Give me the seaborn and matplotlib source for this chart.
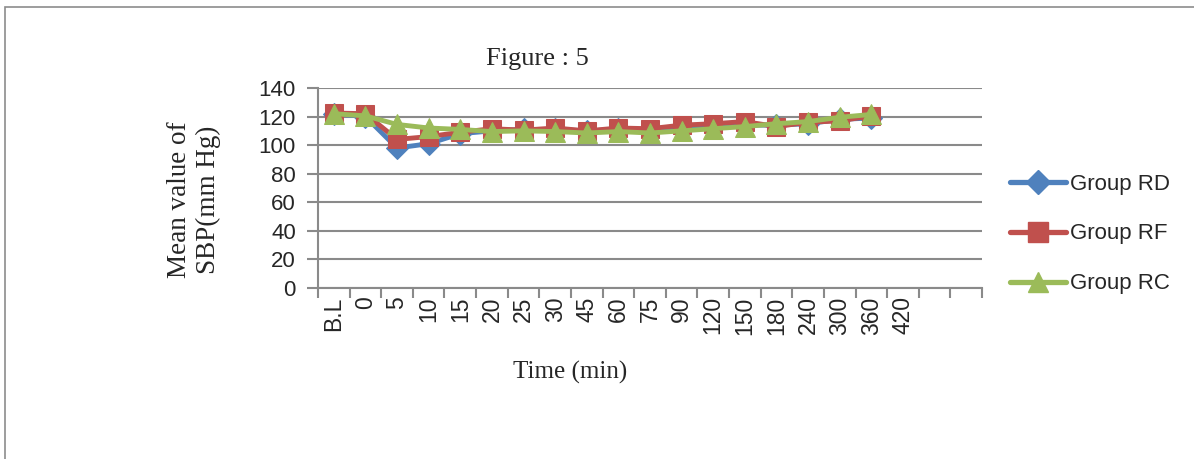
import matplotlib
matplotlib.use("Agg")
import matplotlib.pyplot as plt
import seaborn as sns
import pandas as pd
import numpy as np
from matplotlib.lines import Line2D
from matplotlib.patches import Rectangle

categories = ["B.L", "0", "5", "10", "15", "20", "25", "30", "45", "60", "75",
              "90", "120", "150", "180", "240", "300", "360", "420", "", ""]
group_rd = [122, 120, 98, 101, 108, 110, 111, 111, 110, 111, 110,
            112, 113, 114, 114, 115, 118, 119]
group_rf = [122.5, 122, 104, 106, 109, 111.5, 110.5, 112, 110, 112, 111.5,
            114, 115, 116.5, 113, 116, 117, 120.5]
group_rc = [122, 120.5, 114.5, 112, 111, 109.5, 110, 109.5, 108.5, 109.5, 108.5,
            110, 111.5, 113, 115, 116.5, 119.5, 121.5]
series_names = ["Group RD", "Group RF", "Group RC"]
colors = ["#4F81BD", "#C0504D", "#9BBB59"]
markers = ["D", "s", "^"]

sns.set_theme(style="white")
plt.rcParams["font.family"] = ["Liberation Sans", "DejaVu Sans"]

rows = []
for name, vals in zip(series_names, [group_rd, group_rf, group_rc]):
    for i, v in enumerate(vals):
        rows.append({"pos": i, "value": v, "group": name})
df = pd.DataFrame(rows)

fig = plt.figure(figsize=(11.94, 4.59), dpi=100)
ax = fig.add_axes([318/1194, 1 - 288/459, 664/1194, 200/459])

# outer frame
fig.patches.append(Rectangle((5/1194, -0.1), 1.2, (459-7)/459 + 0.1, transform=fig.transFigure,
                             fill=False, edgecolor="#8c8c8c", linewidth=1.2))

msizes = [11, 13, 14]
for name, col, mk, ms in zip(series_names, colors, markers, msizes):
    sub = df[df["group"] == name]
    sns.lineplot(data=sub, x="pos", y="value", ax=ax, color=col, linewidth=3.5,
                 marker=mk, markersize=ms, markeredgecolor=col, legend=False)

ax.set_xlim(-0.5, len(categories) - 0.5)
ax.set_ylim(0, 140)
ax.set_yticks(np.arange(0, 141, 20))
ax.yaxis.grid(True, color="#8a8a8a", linewidth=1.5)
ax.xaxis.grid(False)
for s in ["top", "right"]:
    ax.spines[s].set_visible(False)
for s in ["left", "bottom"]:
    ax.spines[s].set_color("#8a8a8a")
    ax.spines[s].set_linewidth(1.5)

ax.set_xticks(np.arange(len(categories) + 1) - 0.5)
ax.set_xticklabels([])
ax.set_xticks(np.arange(len(categories)), minor=True)
ax.set_xticklabels(categories, minor=True, rotation=90, fontsize=16.5)
ax.tick_params(axis="x", which="major", length=7, width=1.5, color="#8a8a8a", direction="out", bottom=True)
ax.tick_params(axis="x", which="minor", length=0, pad=6, bottom=True)
ax.tick_params(axis="y", length=8, width=1.5, color="#8a8a8a", direction="out", labelsize=16, left=True, pad=8)
ax.set_xlabel("")
ax.set_ylabel("")

fig.text(537/1194, 1 - 59/459, "Figure : 5", family="Liberation Serif", fontsize=19,
         ha="center", va="center")
fig.text(194/1194, 1 - 200/459, "Mean value of\nSBP(mm Hg)", family="Liberation Serif",
         fontsize=19.5, rotation=90, ha="center", va="center", linespacing=1.25)
fig.text(570/1194, 1 - 372/459, "Time (min)", family="Liberation Serif", fontsize=18,
         ha="center", va="center")

handles = [Line2D([0], [0], color=c, marker=m, markersize=ms, linewidth=3.8,
                  markeredgecolor=c) for c, m, ms in zip(colors, markers, [12, 14, 15])]
fig.legend(handles, series_names, loc="center left", bbox_to_anchor=(990/1194, 1 - 234/459),
           frameon=False, fontsize=16, handlelength=2.5, handletextpad=0.2,
           labelspacing=1.3)

fig.savefig("out.png", dpi=100)
